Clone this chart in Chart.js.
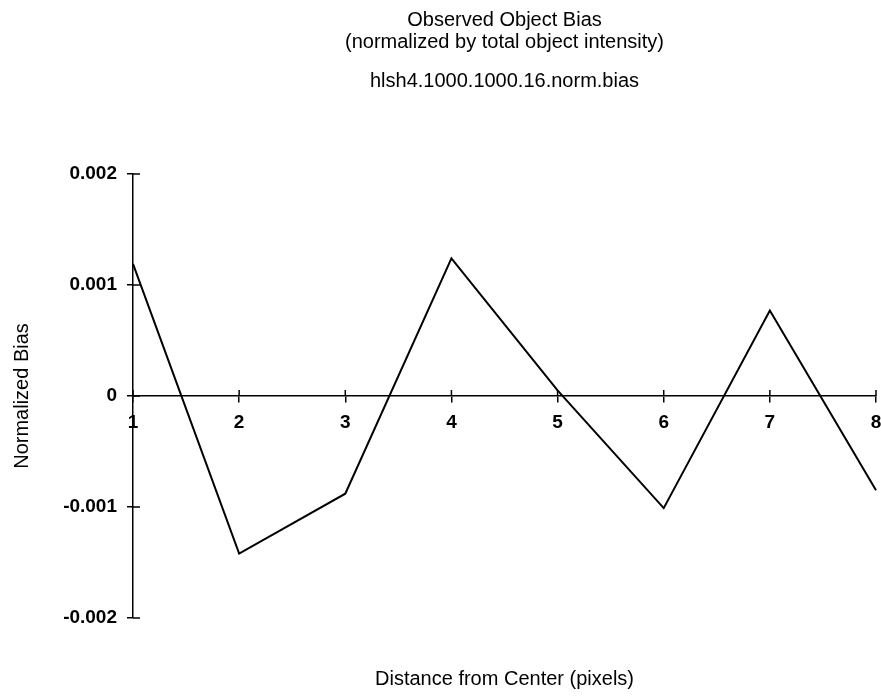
<!DOCTYPE html>
<html>
<head>
<meta charset="utf-8">
<title>Observed Object Bias</title>
<script src="https://cdn.jsdelivr.net/npm/chart.js@4/dist/chart.umd.min.js"></script>
<style>
  html, body { margin: 0; padding: 0; background: #fff; }
  #wrap { width: 881px; height: 696px; }
</style>
</head>
<body>
<div id="wrap"><canvas id="c" width="881" height="696"></canvas></div>
<script>
// Distance from the object centre, in pixels
const distances = [1, 2, 3, 4, 5, 6, 7, 8];
// Bias normalized by total object intensity
const normBias = [0.00119, -0.00142, -0.00088, 0.00124, 0.00005, -0.00101, 0.00077, -0.00085];

const xTickValues = [1, 2, 3, 4, 5, 6, 7, 8];
const xTickLabels = ['1', '2', '3', '4', '5', '6', '7', '8'];
const yTickValues = [-0.002, -0.001, 0, 0.001, 0.002];
const yTickLabels = ['-0.002', '-0.001', '0', '0.001', '0.002'];

const FONT = '"Liberation Sans", Arial, Helvetica, sans-serif';

// Ticks in this style cross the axis line; Chart.js only draws the outer half,
// so the inner half is added here.
const crossTicks = {
  id: 'crossTicks',
  afterDatasetsDraw(chart) {
    const { ctx, scales } = chart;
    const x = scales.x, y = scales.y;
    const y0 = y.getPixelForValue(0);
    const xLeft = x.getPixelForValue(x.min);
    ctx.save();
    ctx.strokeStyle = '#000';
    ctx.lineWidth = 1.5;
    ctx.beginPath();
    x.ticks.forEach(t => {
      const px = x.getPixelForValue(t.value);
      ctx.moveTo(px, y0 - 6);
      ctx.lineTo(px, y0);
    });
    y.ticks.forEach(t => {
      const py = y.getPixelForValue(t.value);
      ctx.moveTo(xLeft, py);
      ctx.lineTo(xLeft + 7, py);
    });
    ctx.stroke();
    ctx.restore();
  }
};

new Chart(document.getElementById('c'), {
  type: 'line',
  data: {
    datasets: [{
      data: distances.map((d, i) => ({ x: d, y: normBias[i] })),
      borderColor: '#000',
      borderWidth: 2,
      pointRadius: 0,
      tension: 0,
      fill: false,
      clip: false
    }]
  },
  options: {
    responsive: false,
    animation: false,
    devicePixelRatio: 1,
    layout: { padding: { left: 6, right: 5, top: 0, bottom: 4 } },
    plugins: {
      legend: { display: false },
      tooltip: { enabled: false },
      title: {
        display: true,
        fullSize: false,
        text: ['Observed Object Bias', '(normalized by total object intensity)'],
        color: '#000',
        font: { family: FONT, size: 20, weight: 'normal', lineHeight: 1.1 },
        padding: { top: 9, bottom: 0 }
      },
      subtitle: {
        display: true,
        fullSize: false,
        text: 'hlsh4.1000.1000.16.norm.bias',
        color: '#000',
        font: { family: FONT, size: 20, weight: 'normal', lineHeight: 1.1 },
        padding: { top: 17, bottom: 82 }
      }
    },
    scales: {
      x: {
        type: 'linear',
        position: { y: 0 },
        min: 1,
        max: 8,
        afterBuildTicks: s => { s.ticks = xTickValues.map(v => ({ value: v })); },
        afterFit: s => { s.paddingLeft = 0; s.paddingRight = 0; },
        ticks: {
          callback: (v, i) => xTickLabels[i],
          color: '#000',
          font: { family: FONT, size: 19, weight: 'bold' },
          padding: 9,
          maxRotation: 0,
          autoSkip: false
        },
        grid: { drawOnChartArea: false, drawTicks: true, tickLength: 6, color: '#000', lineWidth: 1.5 },
        border: { display: true, color: '#000', width: 1.5 }
      },
      xTitle: {
        type: 'linear',
        position: 'bottom',
        axis: 'x',
        min: 1,
        max: 8,
        afterFit: s => { s.paddingLeft = 0; s.paddingRight = 0; },
        ticks: { display: false },
        grid: { display: false, drawTicks: false },
        border: { display: false },
        title: {
          display: true,
          text: 'Distance from Center (pixels)',
          color: '#000',
          font: { family: FONT, size: 20, weight: 'normal' },
          padding: { top: 49, bottom: 1 }
        }
      },
      y: {
        type: 'linear',
        min: -0.002,
        max: 0.002,
        afterBuildTicks: s => { s.ticks = yTickValues.map(v => ({ value: v })); },
        afterFit: s => { s.width = 127; },
        ticks: {
          callback: (v, i) => yTickLabels[i],
          color: '#000',
          font: { family: FONT, size: 19, weight: 'bold' },
          padding: 10
        },
        grid: { drawOnChartArea: false, drawTicks: true, tickLength: 6, color: '#000', lineWidth: 1.5 },
        border: { display: true, color: '#000', width: 1.5 },
        title: {
          display: true,
          text: 'Normalized Bias',
          color: '#000',
          font: { family: FONT, size: 20, weight: 'normal' },
          padding: { top: 4, bottom: 0 }
        }
      }
    }
  },
  plugins: [crossTicks]
});
</script>
</body>
</html>
